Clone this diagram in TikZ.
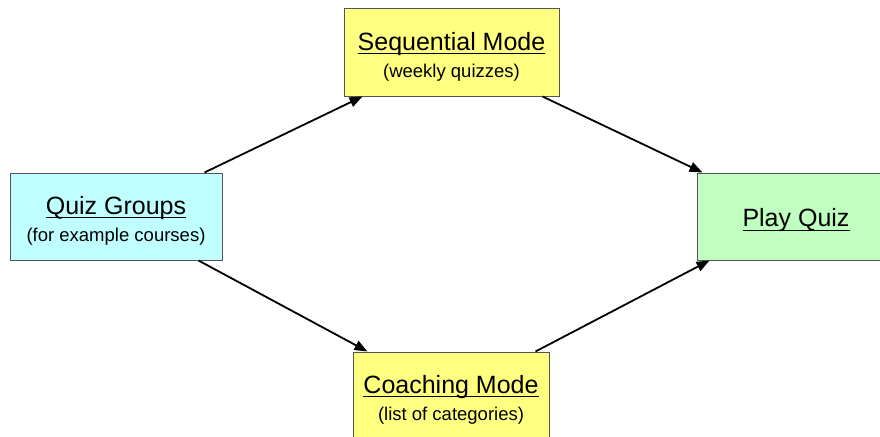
\documentclass[tikz,border=0pt]{standalone}
\usepackage{fontspec}
\setmainfont{Liberation Sans}
\usetikzlibrary{arrows.meta,calc}
\definecolor{GroupClr}{rgb}{0.75,1,1}
\definecolor{ModeClr}{rgb}{1,1,0.5}
\definecolor{PlayClr}{rgb}{0.75,1,0.75}
\definecolor{EdgeClr}{rgb}{0.33,0.33,0.33}
\newcommand{\boxtitle}[1]{{\fontsize{25}{27}\selectfont
  \setbox0\hbox{#1}\rule{0pt}{26pt}\rlap{\copy0}\rule[-4pt]{\wd0}{1.2pt}}}

\begin{document}
\begin{tikzpicture}[x=1pt,y=-1pt,
  box/.style={draw=EdgeClr,line width=1pt,rectangle,minimum height=87pt,
    align=center,inner sep=0pt,font=\fontsize{18.5}{27}\selectfont},
  flow/.style={line width=1.8pt,-{Triangle[length=13pt,width=10pt]}}]
\clip (0,0) rectangle (880,436);

\node[box,fill=GroupClr,minimum width=212pt] (groups) at (116,216.5)
  {\boxtitle{Quiz Groups}\\(for example courses)};
\node[box,fill=ModeClr,minimum width=215pt] (seq) at (451.5,52.5)
  {\boxtitle{Sequential Mode}\\(weekly quizzes)};
\node[box,fill=ModeClr,minimum width=196pt] (coach) at (451,395.5)
  {\boxtitle{Coaching Mode}\\(list of categories)};
\node[box,fill=PlayClr,minimum width=198pt] (play) at (796,216.5)
  {\boxtitle{Play Quiz}};

\draw[flow] ([xshift=-18pt]groups.north east) -- ([xshift=19pt]seq.south west);
\draw[flow] ([xshift=-24pt]groups.south east) -- ([xshift=15pt]coach.north west);
\draw[flow] ([xshift=-17pt]seq.south east) -- ([xshift=6pt]play.north west);
\draw[flow] ([xshift=-14pt]coach.north east) -- ([xshift=13pt]play.south west);

\end{tikzpicture}
\end{document}
